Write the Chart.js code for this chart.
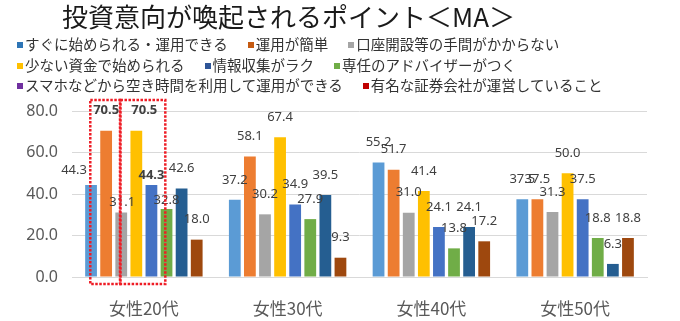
<!DOCTYPE html>
<html lang="ja">
<head>
<meta charset="utf-8">
<title>投資意向が喚起されるポイント＜MA＞</title>
<script src="https://cdn.jsdelivr.net/npm/chart.js@4.4.1/dist/chart.umd.min.js"></script>
<style>
  html, body { margin: 0; padding: 0; background: #fff; }
  #wrap { position: relative; width: 680px; height: 321px; overflow: hidden; }
  #chart { position: absolute; left: 0; top: 0; }
  #title {
    position: absolute; left: 0; top: 1px; width: 577px;
    text-align: center; white-space: nowrap;
    font: 26px/30px "Noto Sans CJK JP", sans-serif; color: #1a1a1a;
  }
  #legend {
    position: absolute; left: 17px; top: 34px;
    font: 14.5px/20.5px "Noto Sans CJK JP", sans-serif; color: #333;
  }
  .row  { white-space: nowrap; height: 20.5px; }
  .item { display: inline-block; margin-right: 20px; }
  .box  { display: inline-block; width: 6px; height: 6px; margin-right: 2px;
          vertical-align: middle; position: relative; top: -1px; }
</style>
</head>
<body>
<div id="wrap">
  <canvas id="chart" width="680" height="321"></canvas>
  <div id="title">投資意向が喚起されるポイント＜MA＞</div>
  <div id="legend"></div>
</div>

<script>
// ─── Data ────────────────────────────────────────────────────────────────
const CATEGORIES = ["女性20代", "女性30代", "女性40代", "女性50代"];

const SERIES = [
  "すぐに始められる・運用できる",
  "運用が簡単",
  "口座開設等の手間がかからない",
  "少ない資金で始められる",
  "情報収集がラク",
  "専任のアドバイザーがつく",
  "スマホなどから空き時間を利用して運用ができる",
  "有名な証券会社が運営していること",
];

const startSoon    = [44.3, 37.2, 55.2, 37.5];
const easyToRun    = [70.5, 58.1, 51.7, 37.5];
const easyAccount  = [31.1, 30.2, 31.0, 31.3];
const smallFunds   = [70.5, 67.4, 41.4, 50.0];
const easyInfo     = [44.3, 34.9, 24.1, 37.5];
const advisor      = [32.8, 27.9, 13.8, 18.8];
const smartphone   = [42.6, 39.5, 24.1,  6.3];
const famousBroker = [18.0,  9.3, 17.2, 18.8];

const VALUES = [startSoon, easyToRun, easyAccount, smallFunds, easyInfo, advisor, smartphone, famousBroker];

const Y_TICKS = [0, 20, 40, 60, 80];

// ─── Styles ──────────────────────────────────────────────────────────────
const BAR_COLORS    = ["#5b9bd5", "#ed7d31", "#a5a5a5", "#ffc000", "#4472c4", "#70ad47", "#255e91", "#9e480e"];
const LEGEND_COLORS = ["#2e75b6", "#c55a11", "#a5a5a5", "#ffc000", "#2f5597", "#70ad47", "#7030a0", "#c00000"];
const LEGEND_ROWS   = [[0, 1, 2], [3, 4, 5], [6, 7]];

// labels that are bold, keyed "category:series"
const BOLD_LABELS = ["0:1", "0:3", "0:4"];
// hand-moved labels in the 20代 group, [dx, dy]
const LABEL_NUDGE = { "0:0": [-17, 5], "0:2": [1, 10], "0:3": [8, 0], "0:4": [0, 10], "0:5": [0, 11] };
// dotted red boxes around series in the first category
const HIGHLIGHT_BOXES = [[1], [3, 4]];

// ─── Legend (HTML) ───────────────────────────────────────────────────────
const legendEl = document.getElementById("legend");
LEGEND_ROWS.forEach(row => {
  const rowEl = document.createElement("div");
  rowEl.className = "row";
  row.forEach(i => {
    const item = document.createElement("span");
    item.className = "item";
    const box = document.createElement("span");
    box.className = "box";
    box.style.background = LEGEND_COLORS[i];
    item.appendChild(box);
    item.appendChild(document.createTextNode(SERIES[i]));
    rowEl.appendChild(item);
  });
  legendEl.appendChild(rowEl);
});

// ─── Plugins ─────────────────────────────────────────────────────────────
const valueLabels = {
  id: "valueLabels",
  afterDatasetsDraw(chart) {
    const ctx = chart.ctx;
    ctx.save();
    ctx.textAlign = "center";
    ctx.textBaseline = "middle";
    ctx.fillStyle = "#404040";
    chart.data.datasets.forEach((ds, si) => {
      chart.getDatasetMeta(si).data.forEach((bar, ci) => {
        const key   = ci + ":" + si;
        const nudge = LABEL_NUDGE[key] || [0, 0];
        ctx.font = (BOLD_LABELS.includes(key) ? "bold " : "") + "13px 'Noto Sans', sans-serif";
        ctx.fillText(ds.data[ci].toFixed(1), bar.x + nudge[0], bar.y - 20 + nudge[1]);
      });
    });
    ctx.restore();
  },
};

const highlightBoxes = {
  id: "highlightBoxes",
  afterDraw(chart) {
    const ctx  = chart.ctx;
    const y    = chart.scales.y;
    const slot = chart.getDatasetMeta(1).data[0].x - chart.getDatasetMeta(0).data[0].x;
    const top    = y.getPixelForValue(y.max) - 11;
    const bottom = y.getPixelForValue(0) + 7;
    ctx.save();
    ctx.strokeStyle = "#ee1c25";
    ctx.lineWidth = 2.5;
    ctx.setLineDash([2.5, 1.5]);
    HIGHLIGHT_BOXES.forEach(group => {
      const first = chart.getDatasetMeta(group[0]).data[0];
      const last  = chart.getDatasetMeta(group[group.length - 1]).data[0];
      const left  = first.x - slot * 1.05;
      const right = last.x + slot * 0.92;
      ctx.strokeRect(left, top, right - left, bottom - top);
    });
    ctx.restore();
  },
};

// ─── Chart ───────────────────────────────────────────────────────────────
new Chart(document.getElementById("chart").getContext("2d"), {
  type: "bar",
  data: {
    labels: CATEGORIES,
    datasets: SERIES.map((name, i) => ({
      label:              name,
      data:               VALUES[i],
      backgroundColor:    BAR_COLORS[i],
      borderWidth:        0,
      categoryPercentage: 0.84,
      barPercentage:      0.78,
    })),
  },
  options: {
    responsive: false,
    animation:  false,
    layout: { padding: { left: 0, right: 33, top: 111, bottom: 0 } },
    plugins: { legend: { display: false }, tooltip: { enabled: false } },
    scales: {
      x: {
        grid:   { display: false, drawTicks: false },
        border: { display: true, color: "#d9d9d9", width: 1 },
        ticks:  { padding: 21, color: "#595959", maxRotation: 0,
                  font: { family: "'Noto Sans CJK JP', sans-serif", size: 17 } },
        afterFit: s => { s.height = 44; },
      },
      y: {
        min: 0,
        max: 80,
        afterBuildTicks: s => { s.ticks = Y_TICKS.map(v => ({ value: v })); },
        grid:   { color: "#d9d9d9", drawTicks: false },
        border: { display: false },
        ticks:  { padding: 14, color: "#595959",
                  font: { family: "'Noto Sans', sans-serif", size: 16 },
                  callback: v => Number(v).toFixed(1) },
        afterFit: s => { s.width = 72; },
      },
    },
  },
  plugins: [valueLabels, highlightBoxes],
});
</script>
</body>
</html>
